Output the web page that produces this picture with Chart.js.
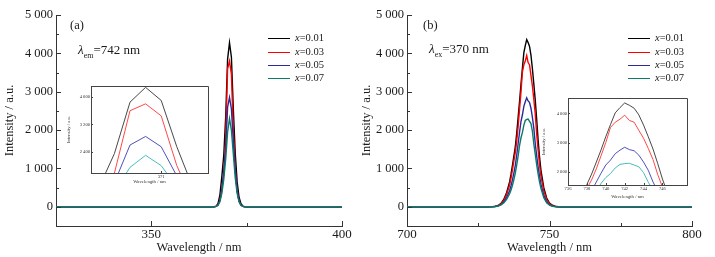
<!DOCTYPE html>
<html>
<head>
<meta charset="utf-8">
<script src="https://cdn.jsdelivr.net/npm/chart.js@4.4.1/dist/chart.umd.min.js"></script>
<style>
  body { margin: 0; width: 715px; height: 257px; overflow: hidden; position: relative; background: #fff;
         font-family: "Liberation Serif", "Times New Roman", serif; color: #1a1a1a; }
  canvas { position: absolute; }
  .t { position: absolute; white-space: nowrap; line-height: 1; }
  .leg { position: absolute; font-size: 10.5px; line-height: 1; white-space: nowrap; }
  .leg span.ln { display: inline-block; width: 22px; height: 0; border-top: 1.5px solid; vertical-align: middle; margin-right: 5px; }
</style>
</head>
<body>
<canvas id="mainA" width="357" height="257" style="left:0;top:0"></canvas>
<canvas id="mainB" width="358" height="257" style="left:357px;top:0"></canvas>
<canvas id="insetA" width="150" height="105" style="left:65px;top:80px"></canvas>
<canvas id="insetB" width="155" height="110" style="left:540px;top:90px"></canvas>

<div class="t" style="left:70px;top:19px;font-size:12.5px">(a)</div>
<div class="t" style="left:78px;top:43px;font-size:13px"><i>λ</i><sub style="font-size:8px">em</sub>=742 nm</div>
<div class="t" style="left:423px;top:19px;font-size:12.5px">(b)</div>
<div class="t" style="left:429px;top:42px;font-size:13px"><i>λ</i><sub style="font-size:8px">ex</sub>=370 nm</div>
<div id="legA"></div>
<div id="legB"></div>

<script>
// sample labels and colours
const labels = ["x=0.01", "x=0.03", "x=0.05", "x=0.07"];
const colors = ["#000000", "#ff0000", "#2a2a9c", "#0b7a66"];
const insetColors = ["#333333", "#ff3333", "#3c3cb4", "#33b5b5"];

// (a) excitation spectra, monitored at 742 nm
const wlA = [325, 330, 335, 340, 345, 350, 355, 360, 365, 366, 366.5, 367, 367.5, 368, 368.5, 369, 369.5,
             370, 370.5, 371, 371.5, 372, 372.5, 373, 373.5, 374, 374.5, 375, 376, 380, 385, 390, 395, 400];
const a001 = [0, 0, 0, 0, 0, 0, 0, 0, 0, 0, 5, 20, 90, 320, 800, 1350, 2350,
              3850, 4280, 3900, 2550, 1400, 650, 250, 80, 20, 5, 0, 0, 0, 0, 0, 0, 0];
const a003 = [0, 0, 0, 0, 0, 0, 0, 0, 0, 0, 3, 10, 50, 180, 480, 900, 1780,
              3600, 3800, 3450, 2000, 1000, 420, 150, 40, 10, 3, 0, 0, 0, 0, 0, 0, 0];
const a005 = [0, 0, 0, 0, 0, 0, 0, 0, 0, 0, 3, 10, 50, 170, 450, 900, 1500,
              2600, 2850, 2550, 1700, 950, 430, 160, 50, 10, 3, 0, 0, 0, 0, 0, 0, 0];
const a007 = [0, 0, 0, 0, 0, 0, 0, 0, 0, 0, 2, 10, 40, 140, 360, 720, 1250,
              1950, 2300, 2000, 1380, 760, 350, 130, 40, 10, 2, 0, 0, 0, 0, 0, 0, 0];

// (b) emission spectra, excited at 370 nm
const wlB = [700, 705, 710, 715, 720, 725, 728, 730, 731, 732, 733, 734, 735,
             736, 736.5, 737, 737.5, 738, 738.5, 739, 739.5, 740, 740.5, 741, 741.5, 742, 742.5,
             743, 743.5, 744, 744.5, 745, 745.5, 746, 746.5, 747,
             748, 749, 750, 751, 752, 753, 754, 760, 770, 780, 790, 800];
const b001 = [0, 0, 0, 0, 0, 0, 1, 5, 15, 35, 90, 200, 380,
              650, 850, 1080, 1320, 1560, 1920, 2330, 2750, 3200, 3620, 4020, 4200, 4360, 4280,
              4180, 3950, 3600, 3200, 2780, 2280, 1750, 1300, 950,
              500, 230, 100, 40, 15, 5, 0, 0, 0, 0, 0, 0];
const b003 = [0, 0, 0, 0, 0, 0, 1, 5, 12, 30, 80, 170, 330,
              570, 750, 960, 1200, 1420, 1720, 2100, 2550, 3000, 3520, 3700, 3800, 3940, 3760,
              3700, 3420, 3150, 2800, 2420, 1900, 1480, 1100, 800,
              420, 190, 80, 30, 10, 3, 0, 0, 0, 0, 0, 0];
const b005 = [0, 0, 0, 0, 0, 0, 1, 3, 10, 25, 60, 130, 250,
              420, 550, 700, 880, 1080, 1350, 1650, 1950, 2230, 2400, 2620, 2740, 2840, 2760,
              2720, 2570, 2330, 2050, 1650, 1330, 1050, 800, 590,
              300, 130, 55, 20, 6, 2, 0, 0, 0, 0, 0, 0];
const b007 = [0, 0, 0, 0, 0, 0, 1, 2, 8, 20, 50, 105, 200,
              340, 440, 560, 710, 880, 1090, 1330, 1600, 1800, 1940, 2130, 2250, 2280, 2290,
              2230, 2170, 1970, 1640, 1370, 1100, 860, 650, 480,
              240, 105, 45, 16, 5, 2, 0, 0, 0, 0, 0, 0];

// tick values
const yTicks = [0, 1000, 2000, 3000, 4000, 5000];
const yMinor = [500, 1500, 2500, 3500, 4500];
const xTicksA = [350, 400];
const xMinorA = [375];
const xTicksB = [700, 750, 800];
const xMinorB = [725, 775];
const insetYTicksA = [2400, 3200, 4000];
const insetXTicksA = [371];
const insetYTicksB = [2000, 3000, 4000];
const insetXTicksB = [736, 738, 740, 742, 744, 746];

const fmt = v => String(v).replace(/\B(?=(\d{3})+(?!\d))/g, " ");
const serif = "'Liberation Serif', 'Times New Roman', serif";

// ticks pointing into the plot, plus an optional frame for the insets
const insideTicks = {
  id: "insideTicks",
  afterDatasetsDraw(chart, args, o) {
    const { ctx, chartArea: a, scales: { x, y } } = chart;
    ctx.save();
    ctx.strokeStyle = o.color;
    ctx.lineWidth = 1;
    ctx.beginPath();
    const onX = (vals, len) => vals.forEach(v => {
      const p = Math.round(x.getPixelForValue(v)) + 0.5;
      ctx.moveTo(p, a.bottom); ctx.lineTo(p, a.bottom - len);
    });
    const onY = (vals, len) => vals.forEach(v => {
      const p = Math.round(y.getPixelForValue(v)) + 0.5;
      ctx.moveTo(a.left, p); ctx.lineTo(a.left + len, p);
    });
    onX(o.xMajor, o.major); onX(o.xMinor || [], o.minor);
    onY(o.yMajor, o.major); onY(o.yMinor || [], o.minor);
    if (o.box) {
      ctx.moveTo(a.left, a.top + 0.5); ctx.lineTo(a.right + 0.5, a.top + 0.5);
      ctx.lineTo(a.right + 0.5, a.bottom);
    }
    ctx.stroke();
    ctx.restore();
  }
};

function makeDatasets(wl, series, cols, width) {
  return series.map((s, i) => ({
    label: labels[i],
    data: wl.map((w, k) => ({ x: w, y: s[k] })),
    borderColor: cols[i],
    borderWidth: width,
    pointRadius: 0,
    tension: 0,
    order: series.length - i
  }));
}

function mainChart(id, wl, series, xMin, xMax, xTicks, xMinor, padRight, yWidth) {
  return new Chart(document.getElementById(id), {
    type: "line",
    data: { datasets: makeDatasets(wl, series, colors, 1.4) },
    options: {
      responsive: false, animation: false, events: [],
      layout: { padding: { top: 15, right: padRight, left: 0, bottom: 0 } },
      plugins: {
        legend: { display: false }, tooltip: { enabled: false },
        insideTicks: { color: "#333", major: 5, minor: 3, xMajor: xTicks, xMinor: xMinor, yMajor: yTicks, yMinor: yMinor }
      },
      scales: {
        x: {
          type: "linear", min: xMin, max: xMax,
          grid: { display: false, drawTicks: false }, border: { display: true, color: "#333", width: 1 },
          afterBuildTicks: s => { s.ticks = xTicks.map(v => ({ value: v })); },
          ticks: { font: { family: serif, size: 13 }, color: "#1a1a1a", padding: 1, maxRotation: 0, autoSkip: false },
          title: { display: true, text: "Wavelength / nm", font: { family: serif, size: 12.5 }, color: "#1a1a1a", padding: { top: 0, bottom: 2 } },
          afterFit: s => { s.height = 31; }
        },
        y: {
          min: -500, max: 5000,
          grid: { display: false, drawTicks: false }, border: { display: true, color: "#333", width: 1 },
          afterBuildTicks: s => { s.ticks = yTicks.map(v => ({ value: v })); },
          ticks: { font: { family: serif, size: 12.5 }, color: "#1a1a1a", padding: 3, callback: v => fmt(v) },
          title: { display: true, text: "Intensity / a.u.", font: { family: serif, size: 12.5 }, color: "#1a1a1a", padding: { top: 2, bottom: 0 } },
          afterFit: s => { s.width = yWidth; }
        }
      }
    },
    plugins: [insideTicks]
  });
}

function insetChart(id, wl, series, xMin, xMax, yMin, yMax, xTicks, yTicks, pad, yWidth, xHeight) {
  return new Chart(document.getElementById(id), {
    type: "line",
    data: { datasets: makeDatasets(wl, series, insetColors, 0.9) },
    options: {
      responsive: false, animation: false, events: [],
      layout: { padding: pad },
      plugins: {
        legend: { display: false }, tooltip: { enabled: false },
        insideTicks: { color: "#444", major: 2, minor: 1, xMajor: xTicks, yMajor: yTicks, box: true }
      },
      scales: {
        x: {
          type: "linear", min: xMin, max: xMax,
          grid: { display: false, drawTicks: false }, border: { display: true, color: "#444", width: 1 },
          afterBuildTicks: s => { s.ticks = xTicks.map(v => ({ value: v })); },
          ticks: { font: { family: serif, size: 4.6 }, color: "#333", padding: 1, maxRotation: 0, autoSkip: false },
          title: { display: true, text: "Wavelength / nm", font: { family: serif, size: 4.8 }, color: "#333", padding: 0 },
          afterFit: s => { s.height = xHeight; }
        },
        y: {
          min: yMin, max: yMax,
          grid: { display: false, drawTicks: false }, border: { display: true, color: "#444", width: 1 },
          afterBuildTicks: s => { s.ticks = yTicks.map(v => ({ value: v })); },
          ticks: { font: { family: serif, size: 4.6 }, color: "#333", padding: 1, callback: v => fmt(v) },
          title: { display: true, text: "Intensity / a.u.", font: { family: serif, size: 4.8 }, color: "#333", padding: { top: 1, bottom: 0 } },
          afterFit: s => { s.width = yWidth; }
        }
      }
    },
    plugins: [insideTicks]
  });
}

mainChart("mainA", wlA, [a001, a003, a005, a007], 325, 400, xTicksA, xMinorA, 15, 56);
mainChart("mainB", wlB, [b001, b003, b005, b007], 700, 800, xTicksB, xMinorB, 23, 50);
insetChart("insetA", wlA, [a001, a003, a005, a007], 368.75, 372.5, 1785, 4320, insetXTicksA, insetYTicksA,
           { top: 6, right: 7, left: 0, bottom: 0 }, 26, 12);
insetChart("insetB", wlB, [b001, b003, b005, b007], 736, 748.6, 1545, 4530, insetXTicksB, insetYTicksB,
           { top: 8, right: 8, left: 0, bottom: 0 }, 28, 15);

// legends drawn as plain text rows
function legend(id, lineLeft) {
  const el = document.getElementById(id);
  const rows = [38, 51.5, 64.5, 77.5];
  labels.forEach((lab, i) => {
    const d = document.createElement("div");
    d.className = "leg";
    d.style.left = lineLeft + "px";
    d.style.top = (rows[i] - 5) + "px";
    d.innerHTML = '<span class="ln" style="border-color:' + colors[i] + '"></span><i>x</i>' + lab.slice(1);
    el.appendChild(d);
  });
}
legend("legA", 268);
legend("legB", 628);
</script>
</body>
</html>
